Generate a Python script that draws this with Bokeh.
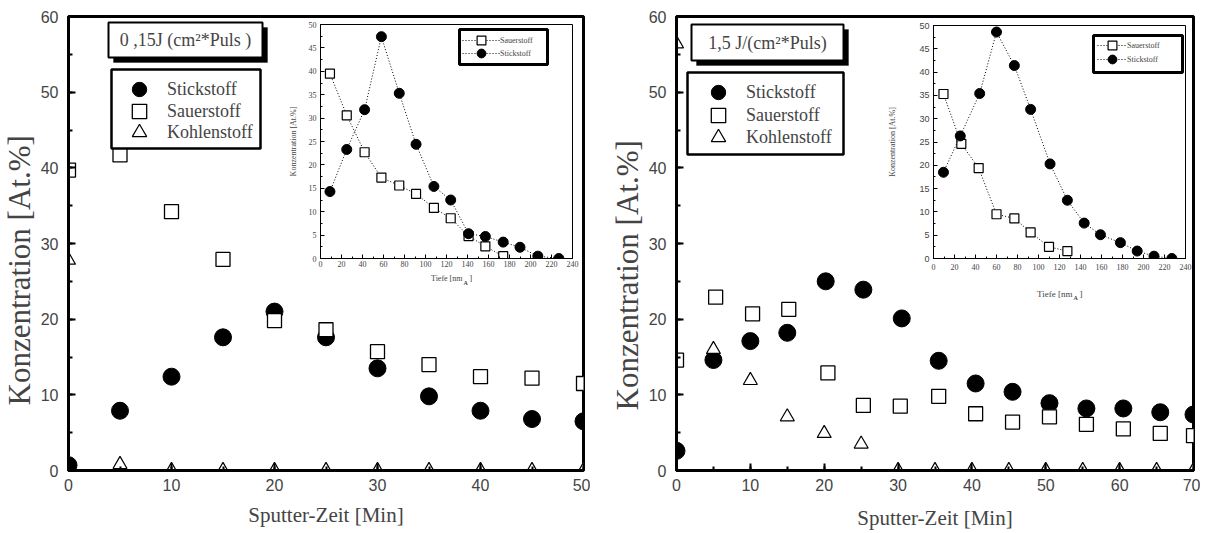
from bokeh.plotting import figure
from bokeh.layouts import row
from bokeh.models import (Range1d, SingleIntervalTicker, Legend, LegendItem,
                          Label, BoxAnnotation, Title)
from bokeh.embed import file_html
from bokeh.resources import INLINE

SERIF = "Liberation Serif"
SANS = "Liberation Sans"

# ---------------- 0,15 J/(cm²*Puls) ----------------
time_a = [0, 5, 10, 15, 20, 25, 30, 35, 40, 45, 50]
stick_a = [0.7, 7.9, 12.4, 17.6, 21.0, 17.6, 13.5, 9.8, 7.9, 6.8, 6.5]
sauer_a = [39.7, 41.7, 34.2, 27.9, 19.8, 18.6, 15.7, 14.0, 12.4, 12.2, 11.5]
kohle_a = [27.8, 0.8, 0.0, 0.0, 0.0, 0.0, 0.0, 0.0, 0.0, 0.0, 0.0]

# depth profile (inset)
depth_n_a = [9, 25, 42, 58, 75, 91, 108, 124, 141, 157, 174, 190, 207, 227]
prof_n_a = [14.3, 23.3, 31.8, 47.4, 35.3, 24.4, 15.4, 12.5, 5.3, 4.7, 3.5, 2.4, 0.5, 0.0]
depth_o_a = [9, 25, 42, 58, 75, 91, 108, 124, 141, 157, 174]
prof_o_a = [39.5, 30.6, 22.7, 17.3, 15.6, 13.8, 10.8, 8.6, 4.8, 2.6, 0.5]

# ---------------- 1,5 J/(cm²*Puls) ----------------
time_n_b = [0, 5, 10, 15, 20.2, 25.3, 30.5, 35.5, 40.5, 45.5, 50.5, 55.5, 60.5, 65.5, 70]
stick_b = [2.6, 14.6, 17.1, 18.2, 25.0, 23.9, 20.1, 14.5, 11.5, 10.4, 8.9, 8.2, 8.2, 7.7, 7.4]
time_o_b = [0, 5.3, 10.3, 15.2, 20.5, 25.3, 30.3, 35.5, 40.5, 45.5, 50.5, 55.5, 60.5, 65.5, 70]
sauer_b = [14.6, 22.9, 20.7, 21.3, 12.9, 8.6, 8.5, 9.8, 7.5, 6.4, 7.1, 6.1, 5.5, 4.9, 4.6]
time_c_b = [0, 5, 10, 15, 20, 25, 30, 35, 40, 45, 50, 55, 60, 65, 70]
kohle_b = [56.4, 16.0, 11.9, 7.1, 4.9, 3.5, 0.0, 0.0, 0.0, 0.0, 0.0, 0.0, 0.0, 0.0, 0.0]

depth_n_b = [9.5, 25.5, 44, 60, 77, 92.5, 111, 127.5, 143.5, 159, 178, 194, 210, 227]
prof_n_b = [18.5, 26.3, 35.4, 48.6, 41.4, 32.0, 20.3, 12.5, 7.6, 5.1, 3.4, 1.6, 0.5, 0.0]
depth_o_b = [9.5, 26.5, 43, 60, 77, 92.5, 110, 127.5]
prof_o_b = [35.3, 24.6, 19.4, 9.5, 8.6, 5.6, 2.5, 1.6]

labels_main = ["Stickstoff", "Sauerstoff", "Kohlenstoff"]
labels_inset = ["Sauerstoff", "Stickstoff"]


def screen_box(l, r, t, b, **kw):
    return BoxAnnotation(left=l, right=r, top=t, bottom=b,
                         left_units="screen", right_units="screen",
                         top_units="screen", bottom_units="screen", **kw)


def row_legend(item, x, y, glyph_w, glyph_h, font_size):
    # one legend entry, drawn without its own frame
    return Legend(items=[item], location=(x, y), glyph_width=glyph_w,
                  glyph_height=glyph_h, label_height=glyph_h, padding=0, margin=0,
                  label_standoff=0, spacing=0, border_line_color=None,
                  background_fill_alpha=0, label_text_font=SERIF,
                  label_text_font_size=font_size)


def depth_title(p, tx, ty, size):
    # "Tiefe [nm_A]" of the inset, written on the main frame underneath it
    p.add_layout(Label(x=tx, y=ty, x_units="screen", y_units="screen", text="Tiefe [nm",
                       text_align="right", text_baseline="middle",
                       text_font=SERIF, text_font_size=size))
    p.add_layout(Label(x=tx + 1, y=ty - 4, x_units="screen", y_units="screen", text="A",
                       text_align="left", text_baseline="middle",
                       text_font=SERIF, text_font_size="6px", text_font_style="bold"))
    p.add_layout(Label(x=tx + 7, y=ty, x_units="screen", y_units="screen", text="]",
                       text_align="left", text_baseline="middle",
                       text_font=SERIF, text_font_size=size))


def main_panel(xmax, border_left, frame_w, box, title_text, title_xy,
               xtitle_standoff, ytitle_offset):
    p = figure(title=None, frame_width=frame_w, frame_height=454,
               x_range=Range1d(0, xmax), y_range=Range1d(0, 60),
               output_backend="svg", toolbar_location=None,
               min_border_left=border_left, min_border_right=7,
               min_border_top=16, min_border_bottom=63)
    p.grid.visible = False
    p.outline_line_color = "black"
    p.outline_line_width = 3
    p.border_fill_color = None
    for ax in (p.xaxis[0], p.yaxis[0]):
        ax.ticker = SingleIntervalTicker(interval=10, num_minor_ticks=2)
        ax.axis_line_width = 3
        ax.major_tick_in = 7
        ax.major_tick_out = 0
        ax.minor_tick_in = 4
        ax.minor_tick_out = 0
        ax.major_tick_line_width = 2
        ax.minor_tick_line_width = 2
        ax.major_label_text_font = SANS
        ax.major_label_text_font_size = "16px"
        ax.axis_label_text_font = SERIF
        ax.axis_label_text_font_style = "normal"
    p.yaxis.major_label_standoff = 10
    p.xaxis.axis_label = "Sputter-Zeit [Min]"
    p.xaxis.axis_label_text_font_size = "21px"
    p.xaxis.major_label_standoff = 8
    p.xaxis.axis_label_standoff = xtitle_standoff

    # vertical axis title, starting a little above the frame's bottom
    p.add_layout(Title(text="Konzentration [At.%]", align="left", offset=ytitle_offset,
                       vertical_align="middle", standoff=0, text_font=SERIF,
                       text_font_size="31px", text_font_style="normal"), "left")

    # title box with drop shadow
    l, r, t, b = box
    p.add_layout(screen_box(l + 5, r + 5, t - 5, b - 5, fill_color="black",
                            fill_alpha=1, line_color="black"))
    p.add_layout(screen_box(l, r, t, b, fill_color="white", fill_alpha=1,
                            line_color="black", line_width=2, line_alpha=1))
    p.add_layout(Label(x=title_xy[0], y=title_xy[1], x_units="screen", y_units="screen",
                       text=title_text, text_align="center", text_baseline="middle",
                       text_font=SERIF, text_font_size="18px"))
    return p


def add_series(p, tn, n, to, o, tc, c, box, legend_x, row_bottoms):
    rn = p.scatter(tn, n, marker="circle", size=17, fill_color="black", line_color="black")
    ro = p.scatter(to, o, marker="square", size=14, fill_color="white",
                   line_color="black", line_width=1.3)
    rc = p.scatter(tc, c, marker="triangle", size=14, fill_color="white",
                   line_color="black", line_width=1.2)
    l, r, t, b = box
    p.add_layout(screen_box(l, r, t, b, fill_color="white", fill_alpha=1,
                            line_color="black", line_width=2.5, line_alpha=1))
    for lab, rend, yb in zip(labels_main, (rn, ro, rc), row_bottoms):
        p.add_layout(row_legend(LegendItem(label=lab, renderers=[rend]),
                                legend_x, yb, 56, 36, "18px"))


def inset_panel(frame_h, ylab_font, ylab_size, xlab_standoff, ytitle_standoff,
                n_x, n_y, o_x, o_y, box, legend_x, glyph_w, row_bottoms):
    q = figure(title=None, frame_width=252, frame_height=frame_h,
               x_range=Range1d(0, 240), y_range=Range1d(0, 50),
               output_backend="svg", toolbar_location=None,
               min_border_left=48, min_border_right=8,
               min_border_top=16, min_border_bottom=42,
               background_fill_color=None, border_fill_color=None)
    q.grid.visible = False
    q.outline_line_color = "black"
    q.outline_line_width = 1
    q.xaxis.ticker = SingleIntervalTicker(interval=20, num_minor_ticks=2)
    q.yaxis.ticker = SingleIntervalTicker(interval=5, num_minor_ticks=2)
    for ax in (q.xaxis[0], q.yaxis[0]):
        ax.axis_line_width = 1
        ax.major_tick_in = 4
        ax.major_tick_out = 0
        ax.minor_tick_in = 2
        ax.minor_tick_out = 0
        ax.major_label_text_font_size = "8px"
        ax.axis_label_text_font = SERIF
        ax.axis_label_text_font_style = "normal"
    q.xaxis.major_label_text_font = SERIF
    q.xaxis.major_label_standoff = xlab_standoff
    q.yaxis.major_label_text_font = ylab_font
    q.yaxis.major_label_text_font_size = ylab_size
    q.yaxis.major_label_standoff = 4
    q.yaxis.axis_label = "Konzentration [At.%]"
    q.yaxis.axis_label_text_font_size = "8px"
    q.yaxis.axis_label_standoff = ytitle_standoff

    lo = q.line(o_x, o_y, line_color="black", line_dash="1 2", line_width=1)
    so = q.scatter(o_x, o_y, marker="square", size=9, fill_color="white",
                   line_color="black", line_width=1.2)
    ln = q.line(n_x, n_y, line_color="black", line_dash="1 2", line_width=1)
    sn = q.scatter(n_x, n_y, marker="circle", size=10, fill_color="black", line_color="black")

    l, r, t, b = box
    q.add_layout(screen_box(l, r, t, b, fill_color="white", fill_alpha=1,
                            line_color="black", line_width=3, line_alpha=1))
    for lab, rends, yb in zip(labels_inset, ([lo, so], [ln, sn]), row_bottoms):
        q.add_layout(row_legend(LegendItem(label=lab, renderers=rends),
                                legend_x, yb, glyph_w, 22, "8px"))
    return q


# left main panel
pa = main_panel(50, 68, 515, (40, 194, 448, 413), "0 ,15J (cm²*Puls )", (117, 431),
                9, 65)
add_series(pa, time_a, stick_a, time_a, sauer_a, time_a, kohle_a,
           (43, 192, 401, 322), 43, (363, 341, 320))
depth_title(pa, 394, 192, "8px")

# left inset
pb = inset_panel(234, SERIF, "8px", 2, 8, depth_n_a, prof_n_a, depth_o_a, prof_o_a,
                 (139, 227, 229, 194), 142, 38, (207, 194))
pb.margin = (8, 0, 0, -318)

# right main panel
pc = main_panel(70, 76, 517, (15, 167, 446, 410), "1,5 J/(cm²*Puls)", (91, 428),
                12, 60)
add_series(pc, time_n_b, stick_b, time_o_b, sauer_b, time_c_b, kohle_b,
           (11, 167, 398, 316), 14, (360, 337, 315))
depth_title(pc, 396, 177, "9px")
pc.margin = (0, 0, 0, 20)

# right inset
pd = inset_panel(233, SANS, "9px", 5, 19, depth_n_b, prof_n_b, depth_o_b, prof_o_b,
                 (160, 249, 223, 186), 164, 30, (202, 188))
pd.margin = (9, 0, 0, -315)

layout = row(pa, pb, pc, pd)
open("out.html", "w").write(file_html(layout, INLINE))
